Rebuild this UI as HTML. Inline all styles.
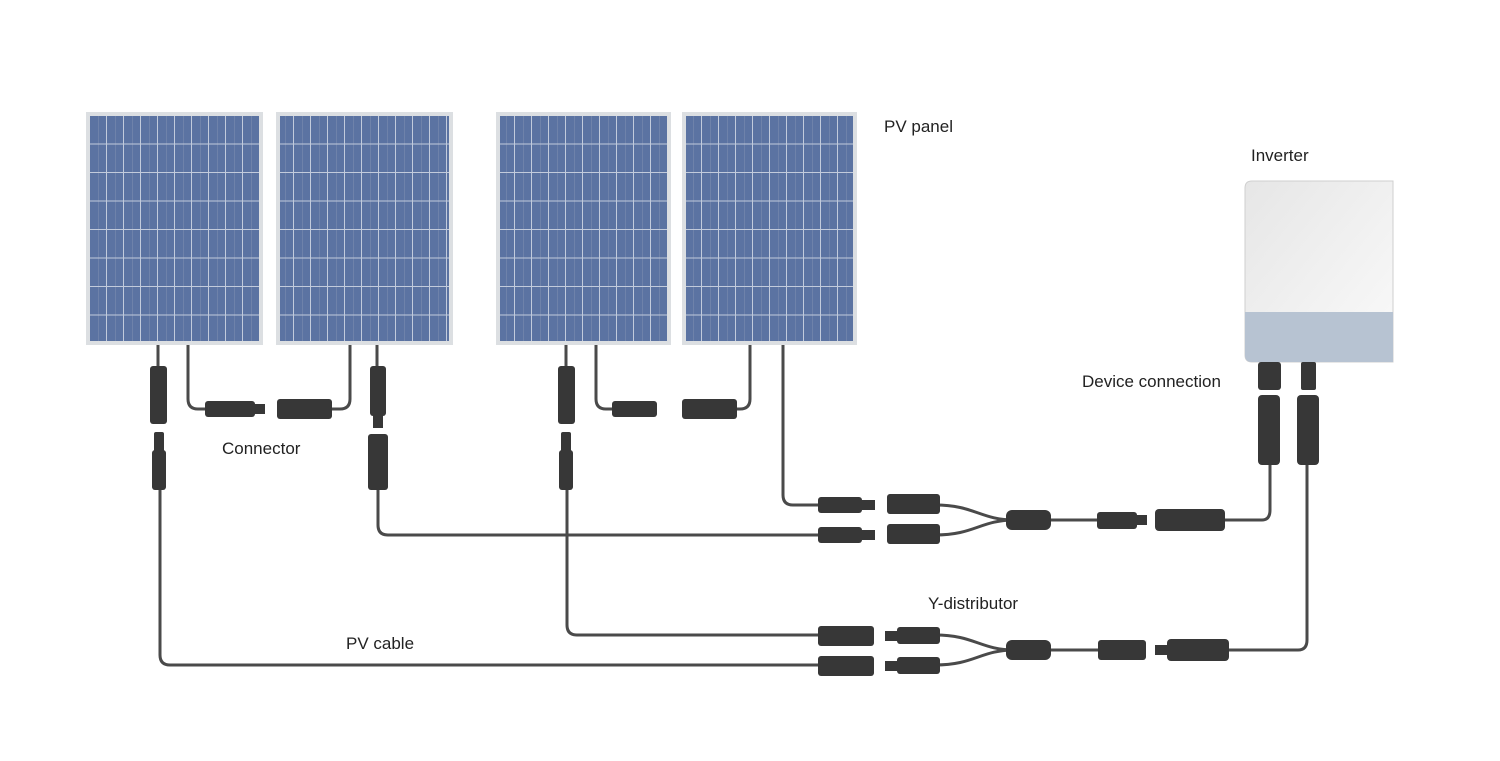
<!DOCTYPE html>
<html><head><meta charset="utf-8"><style>
html,body{margin:0;padding:0;background:#fff;}
svg{display:block}
text{font-family:"Liberation Sans",sans-serif;font-size:17px;fill:#222}
</style></head><body>
<svg width="1500" height="761" viewBox="0 0 1500 761" xmlns="http://www.w3.org/2000/svg">
<defs>
<pattern id="cell" x="90" y="116" width="17" height="28.5" patternUnits="userSpaceOnUse">
<rect width="17" height="28.5" fill="#5b73a2"/>
<rect x="8" y="0" width="0.8" height="28.5" fill="#7386ad"/>
<rect x="16" y="0" width="1.2" height="28.5" fill="#c2cbdc"/>
<rect x="0" y="27.5" width="17" height="1.2" fill="#c2cbdc"/>
</pattern>
<linearGradient id="inv" x1="0" y1="0" x2="1" y2="1"><stop offset="0" stop-color="#e6e6e6"/><stop offset="1" stop-color="#fafafa"/></linearGradient>
</defs>
<g>
<rect x="86" y="112" width="177" height="233" fill="#dcdfe2"/><rect x="90" y="116" width="169" height="225" fill="url(#cell)"/>
<rect x="276" y="112" width="177" height="233" fill="#dcdfe2"/><rect x="280" y="116" width="169" height="225" fill="url(#cell)"/>
<rect x="496" y="112" width="175" height="233" fill="#dcdfe2"/><rect x="500" y="116" width="167" height="225" fill="url(#cell)"/>
<rect x="682" y="112" width="175" height="233" fill="#dcdfe2"/><rect x="686" y="116" width="167" height="225" fill="url(#cell)"/>
</g>
<path d="M1252 181 H1393 V362 H1252 Q1245 362 1245 355 V188 Q1245 181 1252 181Z" fill="url(#inv)" stroke="#cfcfcf"/>
<path d="M1245 312 H1393 V362 H1252 Q1245 362 1245 355Z" fill="#b7c3d2"/>
<g fill="none" stroke="#4a4a4a" stroke-width="3">
<path d="M158 345 V366"/>
<path d="M160 490 V655 Q160 665 170 665 H820"/>
<path d="M188 345 V399 Q188 409 198 409 H210"/>
<path d="M350 345 V399 Q350 409 340 409 H330"/>
<path d="M377 345 V366"/>
<path d="M378 490 V525 Q378 535 388 535 H820"/>
<path d="M566 345 V366"/>
<path d="M567 490 V625 Q567 635 577 635 H820"/>
<path d="M596 345 V399 Q596 409 606 409 H615"/>
<path d="M750 345 V399 Q750 409 740 409 H735"/>
<path d="M783 345 V495 Q783 505 793 505 H820"/>
<path d="M935 505 C975 505 980 520 1015 520 M935 535 C975 535 980 520 1015 520 M1050 520 H1100 M1220 520 H1262 Q1270 520 1270 510 V460"/>
<path d="M935 635 C975 635 980 650 1015 650 M935 665 C975 665 980 650 1015 650 M1050 650 H1100 M1225 650 H1298 Q1307 650 1307 640 V460"/>
</g>
<g fill="#373737">
<rect x="150" y="366" width="17" height="58" rx="3"/>
<rect x="154" y="432" width="10" height="58" rx="2"/><rect x="152" y="450" width="14" height="40" rx="3"/>
<rect x="205" y="401" width="50" height="16" rx="3"/><rect x="253" y="404" width="12" height="10"/>
<rect x="277" y="399" width="55" height="20" rx="3"/>
<rect x="370" y="366" width="16" height="50" rx="3"/><rect x="373" y="414" width="10" height="14"/>
<rect x="368" y="434" width="20" height="56" rx="3"/>
<rect x="558" y="366" width="17" height="58" rx="3"/>
<rect x="561" y="432" width="10" height="58" rx="2"/><rect x="559" y="450" width="14" height="40" rx="3"/>
<rect x="612" y="401" width="45" height="16" rx="3"/>
<rect x="682" y="399" width="55" height="20" rx="3"/>
<rect x="818" y="497" width="44" height="16" rx="3"/><rect x="860" y="500" width="15" height="10"/>
<rect x="818" y="527" width="44" height="16" rx="3"/><rect x="860" y="530" width="15" height="10"/>
<rect x="887" y="494" width="53" height="20" rx="3"/>
<rect x="887" y="524" width="53" height="20" rx="3"/>
<rect x="1006" y="510" width="45" height="20" rx="6"/>
<rect x="1097" y="512" width="40" height="17" rx="3"/><rect x="1135" y="515" width="12" height="10"/>
<rect x="1155" y="509" width="70" height="22" rx="4"/>
<rect x="1258" y="395" width="22" height="70" rx="4"/>
<rect x="1258" y="362" width="23" height="28" rx="3"/>
<rect x="1301" y="362" width="15" height="28" rx="2"/>
<rect x="1297" y="395" width="22" height="70" rx="4"/>
<rect x="818" y="626" width="56" height="20" rx="3"/>
<rect x="818" y="656" width="56" height="20" rx="3"/>
<rect x="885" y="631" width="14" height="10"/><rect x="897" y="627" width="43" height="17" rx="3"/>
<rect x="885" y="661" width="14" height="10"/><rect x="897" y="657" width="43" height="17" rx="3"/>
<rect x="1006" y="640" width="45" height="20" rx="6"/>
<rect x="1098" y="640" width="48" height="20" rx="3"/>
<rect x="1155" y="645" width="14" height="10"/><rect x="1167" y="639" width="62" height="22" rx="4"/>
</g>
<text x="884" y="132">PV panel</text>
<text x="1251" y="161">Inverter</text>
<text x="1082" y="387">Device connection</text>
<text x="222" y="454">Connector</text>
<text x="928" y="609">Y-distributor</text>
<text x="346" y="649">PV cable</text>
</svg>
</body></html>
